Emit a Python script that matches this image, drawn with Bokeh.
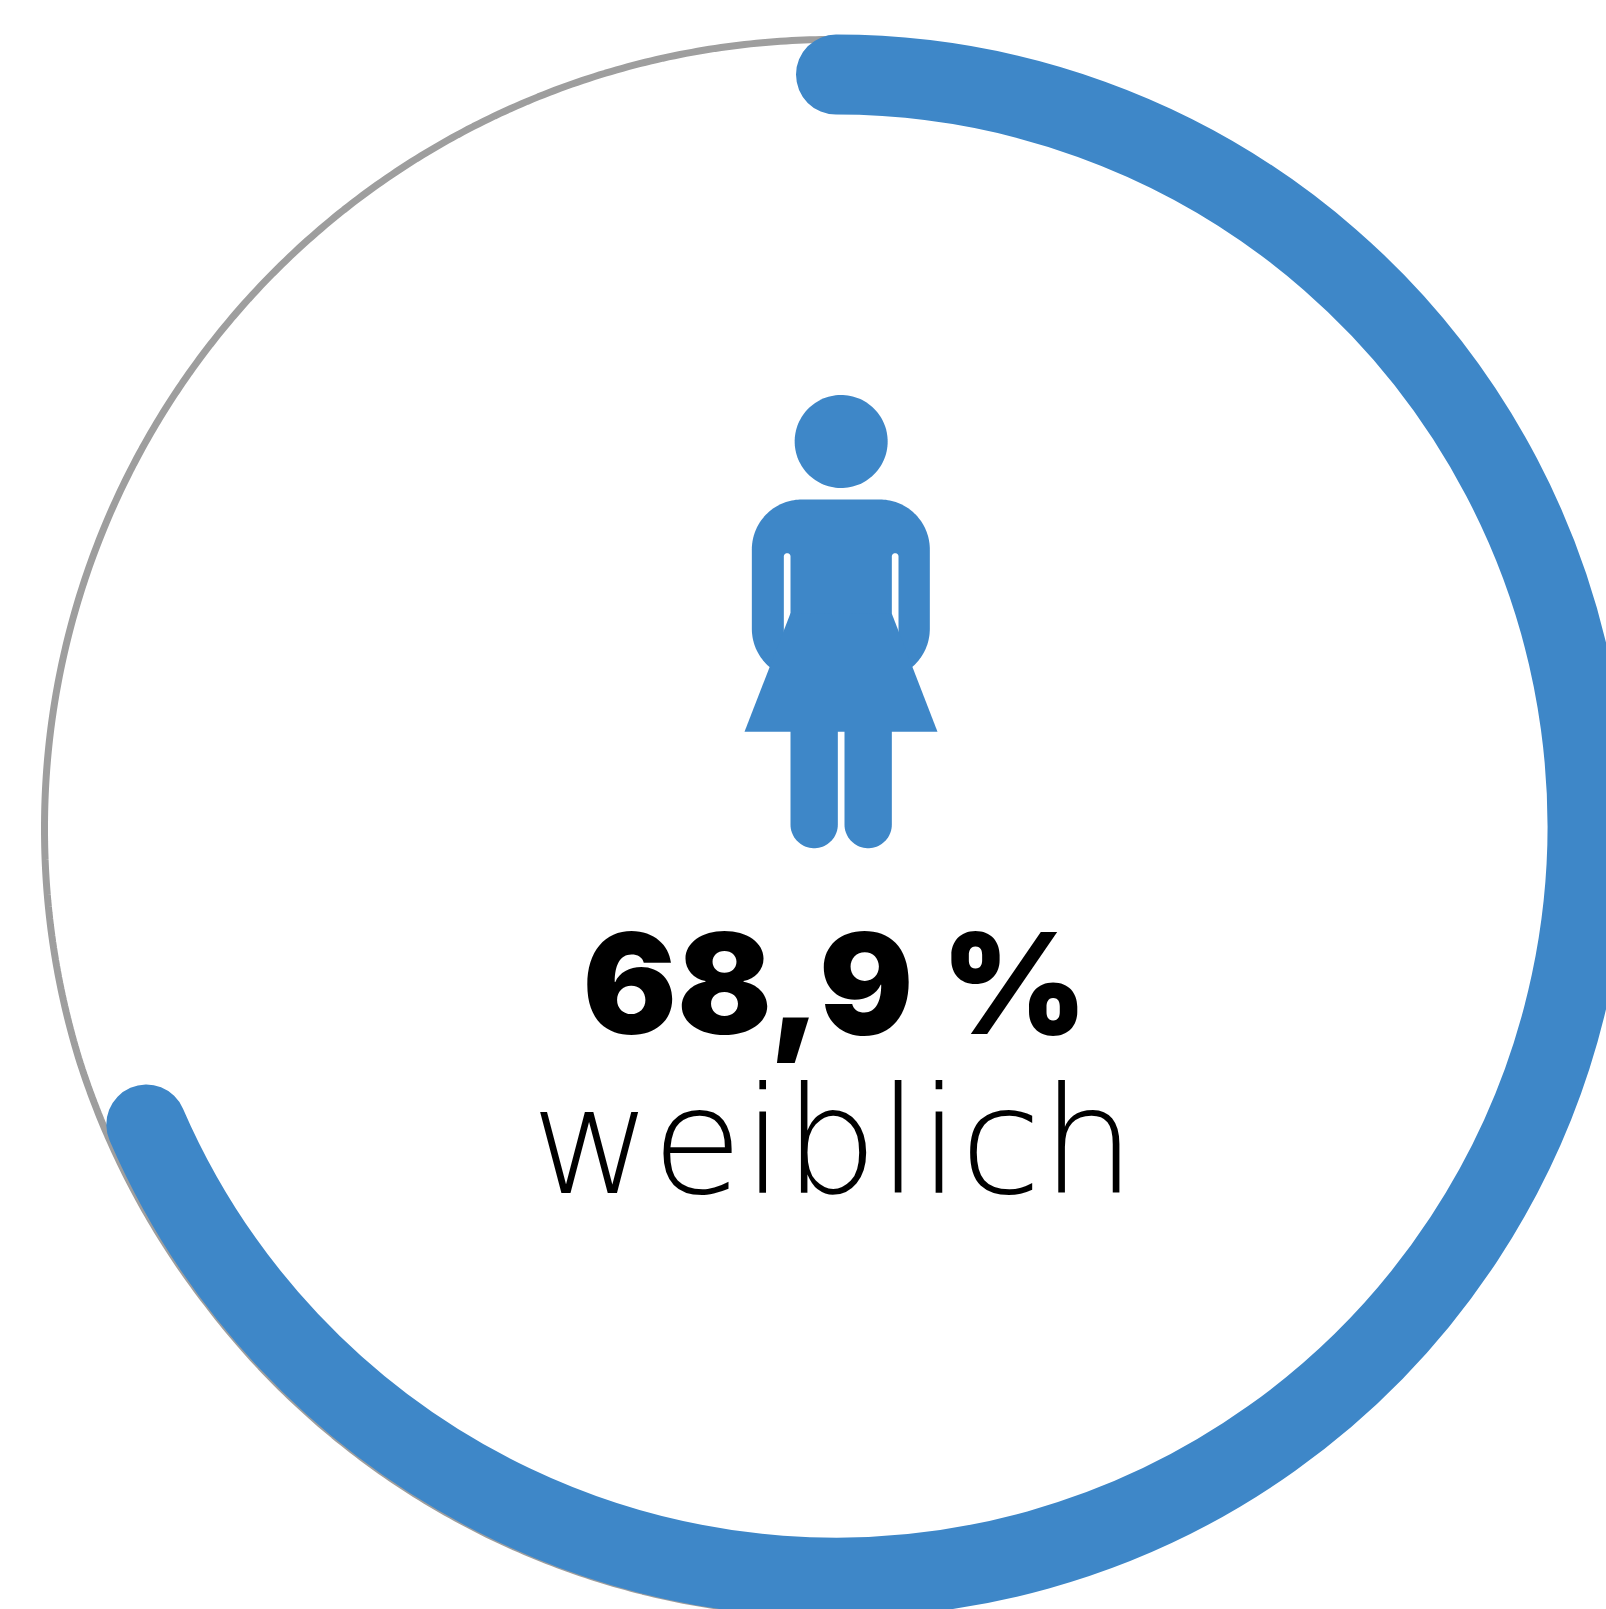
from bokeh.plotting import figure
from bokeh.models import Range1d
from bokeh.embed import file_html
from bokeh.resources import INLINE
from bokeh.core.properties import value
import numpy as np

share_label = ["68,9 %"]
category = ["weiblich"]
arc_share = [68.5]

CX, CY = 835.5, 825.6
p = figure(width=1606, height=1609, output_backend="svg", toolbar_location=None,
           x_range=Range1d(-CX, 1606-CX), y_range=Range1d(CY-1609, CY), min_border=0)
p.axis.visible = False; p.grid.visible = False; p.outline_line_color = None

BLUE = "#3E87C8"; GREY = "#9E9E9E"
# grey track: only its left part shows beside the blue arc; it tucks under the blue towards the bottom
th = np.linspace(90, 262, 400)
r_track = 789 - 2.8*np.clip((th-197)/20, 0, 1)
p.line(833-CX + r_track*np.cos(np.radians(th)), CY-828 + r_track*np.sin(np.radians(th)),
       line_color=GREY, line_width=7)
a = arc_share[0]/100*2*np.pi
p.arc(x=[0], y=[0], radius=751.5, start_angle=np.pi/2-a, end_angle=np.pi/2, line_color=BLUE, line_width=80, line_cap="round")

def T(pts):
    pts = np.array(pts, float)
    return (720+pts[:,0]/3-CX).tolist(), (CY-(380+pts[:,1]/3)).tolist()
def arc_pts(cx, cy, r, a0, a1, n=40):
    t = np.radians(np.linspace(a0, a1, n))
    return [(cx+r*np.cos(x), cy+r*np.sin(x)) for x in t]
def rrect(x0,y0,x1,y1,r):
    return arc_pts(x0+r,y0+r,r,180,270)+arc_pts(x1-r,y0+r,r,270,360)+arc_pts(x1-r,y1-r,r,0,90)+arc_pts(x0+r,y1-r,r,90,180)
def add(pts, c=BLUE):
    x,y = T(pts); p.patch(x,y,fill_color=c,line_color=None)

add(arc_pts(362,183,139.5,0,360,120))
add(rrect(94,357,628,895,150))
add(rrect(190,518,210,770,10),"white")
add(rrect(514,518,534,770,10),"white")
add([(72,1054),(651,1054),(514,700),(210,698)])
add([(210,1050),(352,1050)]+arc_pts(281,1332,71,0,180))
add([(372,1050),(514,1050)]+arc_pts(443,1332,71,0,180))

p.text(x=[-1],y=[CY-1031+48.8],text=share_label,text_font=value("Inter Black"),text_font_style="bold",text_font_size="140px",text_align="center",text_baseline="alphabetic",text_color="black")
p.text(x=[-3],y=[CY-1192+50.3],text=category,text_font=value("DejaVu Sans Light"),text_font_size="148px",text_align="center",text_baseline="alphabetic",text_color="black")
open("out.html","w").write(file_html(p,INLINE))
